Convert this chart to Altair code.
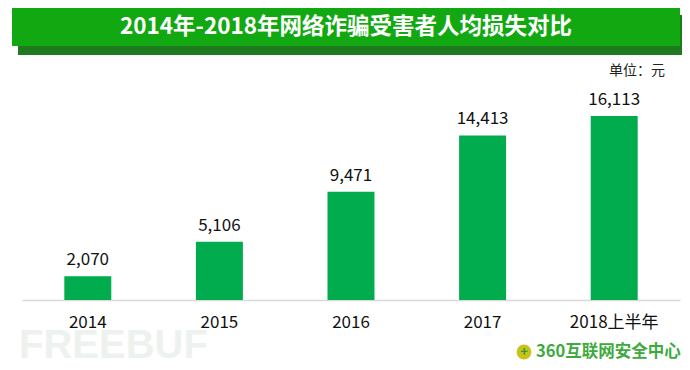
import altair as alt
import pandas as pd

categories = ["2014", "2015", "2016", "2017", "2018上半年"]
values = [2070, 5106, 9471, 14413, 16113]
labels = ["2,070", "5,106", "9,471", "14,413", "16,113"]
title_text = ["2014年-2018年网络诈骗受害者人均损失对比"]
unit_text = ["单位：元"]
logo_text = ["360互联网安全中心"]
watermark_text = ["FREEBUF"]

df = pd.DataFrame({"cat": categories, "val": values, "lab": labels})

FONT = "Noto Sans CJK SC"
GREEN = "#00AC4E"

x = alt.X("cat:N", sort=categories, title=None,
          scale=alt.Scale(paddingInner=0.643, paddingOuter=0.3215),
          axis=alt.Axis(labelAngle=0, ticks=False, domainColor="#D9D9D9", domainWidth=1.5,
                        labelFont=FONT, labelFontSize=17, labelColor="#111111",
                        labelPadding=14, labelBaseline="top"))
y = alt.Y("val:Q", title=None, scale=alt.Scale(domain=[0, 25570], nice=False), axis=None)

bars = alt.Chart(df).mark_bar(color=GREEN).encode(x=x, y=y)
bar_labels = alt.Chart(df).mark_text(font=FONT, fontSize=17, color="#111111",
                                     baseline="bottom", dy=-7).encode(
    x=alt.X("cat:N", sort=categories), y="val:Q", text="lab:N")

one = pd.DataFrame({"t": title_text})
shadow = alt.Chart(one).mark_rect(color="#1F7A1F").encode(
    x=alt.value(-4), x2=alt.value(661), y=alt.value(7), y2=alt.value(47))
banner = alt.Chart(one).mark_rect(color="#12A812").encode(
    x=alt.value(-10), x2=alt.value(658), y=alt.value(-1), y2=alt.value(38))
title = alt.Chart(one).mark_text(font=FONT, fontSize=22.5, fontWeight="bold", color="white",
                                 align="center", baseline="middle").encode(
    x=alt.value(324), y=alt.value(19), text="t:N")

unit = alt.Chart(pd.DataFrame({"t": unit_text})).mark_text(
    font=FONT, fontSize=14, color="#222222", align="right", baseline="middle").encode(
    x=alt.value(643), y=alt.value(63), text="t:N")

watermark = alt.Chart(pd.DataFrame({"t": watermark_text})).mark_text(
    font="Liberation Sans", fontSize=40, fontWeight="bold", color="#EEF2EF",
    align="left", baseline="alphabetic").encode(
    x=alt.value(-3), y=alt.value(350), text="t:N")

logo_icon = alt.Chart(pd.DataFrame({"t": logo_text})).mark_point(
    filled=True, shape="circle", size=220, color="#C9C21A", opacity=1).encode(
    x=alt.value(502), y=alt.value(344))
logo_icon2 = alt.Chart(pd.DataFrame({"t": logo_text})).mark_text(
    font=FONT, fontSize=13, fontWeight="bold", color="#2E9E3A",
    align="center", baseline="middle").encode(
    x=alt.value(502), y=alt.value(344), text=alt.value("+"))
logo = alt.Chart(pd.DataFrame({"t": logo_text})).mark_text(
    font=FONT, fontSize=16.5, fontWeight="bold", color="#3DAA3D",
    align="left", baseline="middle").encode(
    x=alt.value(514), y=alt.value(344), text="t:N")

chart = alt.layer(
    watermark, shadow, banner, title, unit, bars, bar_labels, logo_icon, logo_icon2, logo
).properties(
    width=658, height=292,
    autosize=alt.AutoSizeParams(type="none"),
    padding={"left": 14, "top": 0, "right": 2, "bottom": 62},
    background="white",
).configure_view(stroke=None)

chart.save("out.html", embed_options={"renderer": "svg", "actions": False})
